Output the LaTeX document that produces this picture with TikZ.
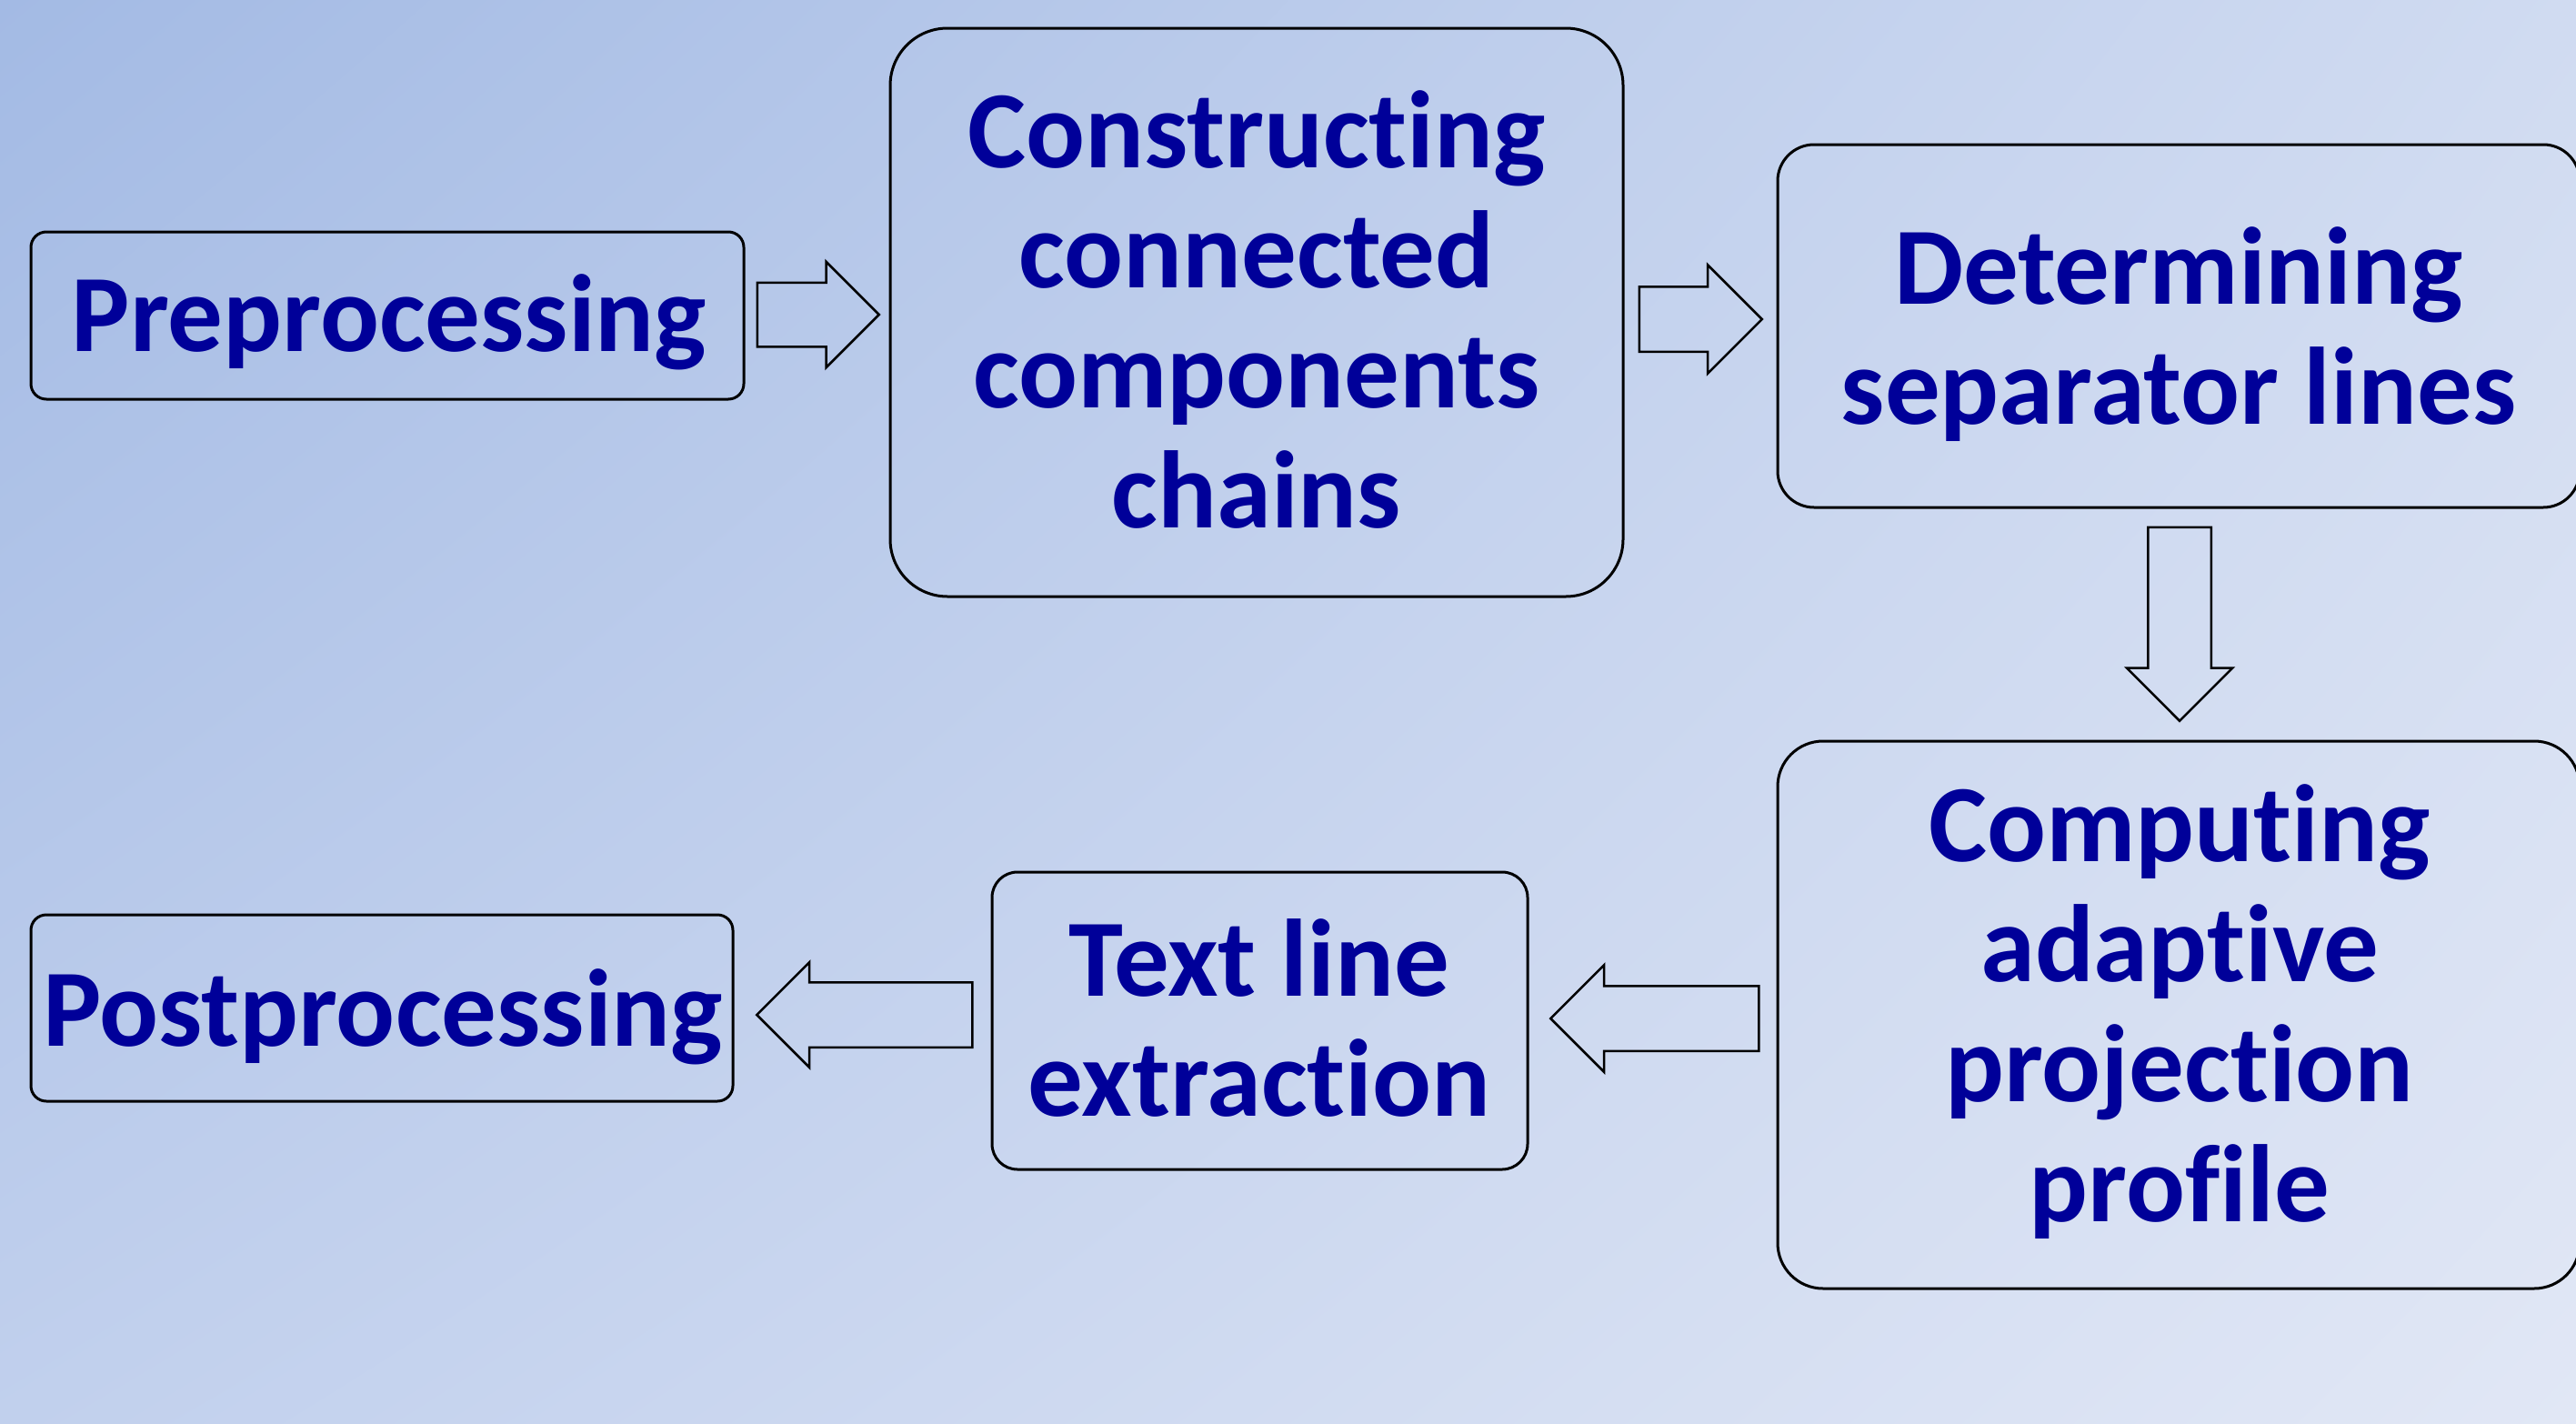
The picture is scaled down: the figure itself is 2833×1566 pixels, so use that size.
\documentclass[tikz,border=0pt]{standalone}
\usepackage{fontspec}
\setmainfont{Carlito}[Ligatures={NoCommon,NoContextual}]
\usetikzlibrary{shapes.arrows,calc,shadings}
\definecolor{bgUL}{RGB}{163,186,228}
\definecolor{bgUR}{RGB}{208,219,241}
\definecolor{bgLL}{RGB}{193,208,237}
\definecolor{bgLR}{RGB}{225,231,245}
\definecolor{txt}{RGB}{0,0,153}
\begin{document}
\begin{tikzpicture}[x=1pt,y=-1pt,
  box/.style={draw=black, line width=3pt, rectangle, inner sep=0pt},
  lbl/.style={text=txt, font=\fontsize{121}{132}\selectfont\bfseries, align=center, inner sep=0pt},
  blockarrow/.style={draw=black, line width=2.5pt, single arrow, inner xsep=0pt, minimum width=0pt, single arrow head indent=0pt, anchor=tail}
]
\shade[upper left=bgUL, upper right=bgUR, lower left=bgLL, lower right=bgLR] (0,0) rectangle (2833,1566);
\useasboundingbox (0,0) rectangle (2833,1566);

% boxes
\node[box, rounded corners=17pt, minimum width=784pt, minimum height=184pt] (b1) at (426,347) {};
\node[box, rounded corners=63pt, minimum width=806pt, minimum height=625pt] (b2) at (1382,343.5) {};
\node[box, rounded corners=40pt, minimum width=882pt, minimum height=399pt] (b3) at (2396,358.5) {};
\node[box, rounded corners=50pt, minimum width=882pt, minimum height=602pt] (b4) at (2396,1116) {};
\node[box, rounded corners=28pt, minimum width=589pt, minimum height=327pt] (b5) at (1385.5,1122.5) {};
\node[box, rounded corners=17pt, minimum width=772pt, minimum height=205pt] (b6) at (420,1108.5) {};

% texts
\node[lbl] (t1) at (428,354) {Preprocessing};
\node[lbl] (t2) at (1382,340) {Constructing\\connected\\components\\chains};
\node[lbl] (t3) at (2396,368) {Determining\\separator lines};
\node[lbl] (t4) at (2397,1113) {Computing\\adaptive\\projection\\profile};
\node[lbl] (t5) at (1385,1119) {Text line\\extraction};
\node[lbl] (t6) at (421,1118) {Postprocessing};

% block arrows
\node[blockarrow, minimum height=134pt, inner ysep=34pt, single arrow head extend=23pt] (a1) at ($(b1.east)+(12,-1)$) {};
\node[blockarrow, minimum height=135pt, inner ysep=34.5pt, single arrow head extend=24pt] (a2) at ($(b2.east)+(15,7.5)$) {};
\node[blockarrow, rotate=-90, minimum height=213pt, inner ysep=33.5pt, single arrow head extend=23.5pt] (a3) at ($(b3.south)+(1,19)$) {};
\node[blockarrow, rotate=180, minimum height=229pt, inner ysep=34.5pt, single arrow head extend=23pt] (a4) at ($(b4.west)+(-18,4)$) {};
\node[blockarrow, rotate=180, minimum height=237pt, inner ysep=34.5pt, single arrow head extend=22pt] (a5) at ($(b5.west)+(-19,-6.5)$) {};
\end{tikzpicture}
\end{document}
